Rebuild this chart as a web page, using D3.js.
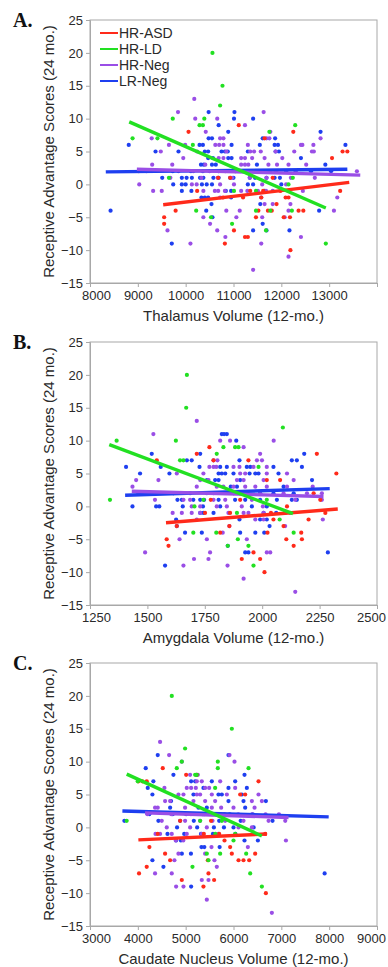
<!DOCTYPE html>
<html>
<head>
<meta charset="utf-8">
<script src="https://cdn.jsdelivr.net/npm/d3@7"></script>
<style>
  body { margin: 0; background: #fff; }
  svg { display: block; }
</style>
</head>
<body>
<script>
// ---- shared ----
const groups = ["HR-ASD", "HR-LD", "HR-Neg", "LR-Neg"];
const groupColors = ["#ff2a1a", "#22e022", "#9a4ee6", "#1e3ff0"];
const yTicks = [-15, -10, -5, 0, 5, 10, 15, 20, 25];
const yTitle = "Receptive Advantage Scores (24 mo.)";

// ---- A. thalamus ----
const thalamusTicks = [8000, 9000, 10000, 11000, 12000, 13000, 14000];
const thalamusASD = [[9550,-5],[9550,-6],[9790,-4],[10060,8],[10240,-1],[10780,-2],[10820,-9],[10930,1],[11010,-7],[11110,9],[11240,-8],[11300,-8],[11350,-1],[11470,-5],[11520,-4],[11580,-2],[11650,7],[11720,-4],[11800,-4],[11820,1],[11900,-3],[11980,-1],[12050,-5],[12090,-2],[12150,-2],[12180,-5],[12190,-10],[12250,8],[12360,-4],[12460,-4],[13060,4],[13280,5],[13380,5],[13230,-1],[11620,-1],[10680,1],[11200,-2]];
const thalamusLD = [[8890,7],[9410,7],[9650,1],[9730,10],[10220,-4],[10290,9],[10360,9],[10390,10],[10560,20],[10530,-5],[10720,12],[10770,15],[10970,-6],[11470,-4],[11470,-1],[11680,-7],[11750,8],[11770,-4],[12150,0],[12240,1],[12220,-4],[12290,9],[12930,-9],[10150,6],[11010,-1]];
const thalamusNeg = [[10180,13],[9840,11],[11630,11],[10200,10],[10660,10],[11240,9],[10420,8],[11770,8],[9290,7],[10720,7],[10790,7],[11690,7],[11750,7],[12820,7],[9650,6],[9990,6],[10620,6],[10700,6],[10790,6],[11300,6],[12410,6],[12440,6],[12670,6],[9480,5],[10240,5],[10850,5],[11350,5],[11430,5],[11570,5],[11880,5],[12270,5],[12640,5],[12680,5],[9950,4],[10690,4],[10790,4],[11160,4],[11240,4],[11390,4],[11650,4],[12020,4],[9300,3],[9720,3],[10410,3],[11160,3],[11240,3],[11310,3],[11730,3],[11910,3],[12150,3],[12520,3],[9020,2],[9180,2],[9850,2],[10160,2],[10500,2],[10830,2],[11300,2],[11890,2],[12300,2],[13580,2],[9680,1],[10330,1],[10670,1],[10970,1],[11340,1],[11690,1],[12200,1],[12700,1],[9030,0],[10130,0],[10230,0],[10720,0],[11010,0],[11600,0],[12100,0],[9320,-1],[9500,-1],[10370,-1],[10610,-1],[10680,-1],[10820,-1],[11160,-1],[11290,-1],[11510,-1],[11680,-1],[11820,-1],[12450,-1],[10720,-2],[11580,-2],[13170,-2],[11650,-3],[11820,-3],[12190,-3],[10850,-4],[11130,-4],[12150,-4],[13100,-4],[10370,-5],[11060,-5],[11600,-5],[12070,-5],[10510,-6],[9620,-7],[10660,-7],[10830,-8],[12410,-8],[10100,-9],[11580,-9],[12150,-11],[11410,-13]];
const thalamusLR = [[10480,11],[11020,11],[11010,10],[11410,10],[10690,9],[10890,8],[12820,8],[10480,7],[10550,7],[11610,7],[11870,7],[8810,6],[10290,6],[10360,6],[10960,6],[11550,6],[11860,6],[11930,6],[13340,6],[9370,5],[9850,5],[10400,5],[10470,5],[10750,5],[10820,5],[10880,5],[11300,5],[11880,5],[11950,5],[10470,4],[10570,4],[10890,4],[10960,4],[12410,4],[10320,3],[10380,3],[10550,3],[10630,3],[11490,3],[12920,3],[9730,2],[10110,2],[10360,2],[10690,2],[11040,2],[11280,2],[11520,2],[11760,2],[12100,2],[12620,2],[13040,2],[9510,1],[9920,1],[10020,1],[10130,1],[10300,1],[10370,1],[10580,1],[10690,1],[10930,1],[11000,1],[11340,1],[11450,1],[11690,1],[11860,1],[11970,1],[9740,0],[9920,0],[10000,0],[10340,0],[10440,0],[10550,0],[11300,0],[11410,0],[12000,0],[9920,-1],[10120,-1],[10840,-1],[10950,-1],[11650,-1],[10330,-2],[10400,-2],[10470,-2],[10950,-2],[11560,-3],[10540,-3],[8430,-4],[10430,-4],[12790,-4],[10560,-5],[11610,-6],[11410,-7],[12170,-7],[11690,-7],[9710,-9]];
// fit lines: [x1, y1, x2, y2] per group
const thalamusFits = [[9530,-3.1,13420,0.3],[8820,9.5,12930,-3.6],[8980,2.3,13650,1.4],[8330,1.9,13380,2.3]];

// ---- B. amygdala ----
const amygdalaTicks = [1250, 1500, 1750, 2000, 2250, 2500];
const amygdalaASD = [[1541,7],[1584,-5],[1592,-6],[1628,-3],[1715,8],[1770,9],[1751,-1],[1776,1],[1788,7],[1817,-4],[1857,-3],[1904,1],[1911,-8],[1940,7],[1962,-7],[1991,-8],[2010,-10],[2020,4],[2023,-4],[2038,-1],[2049,-2],[2078,4],[2093,-3],[2105,-5],[2108,0],[2137,-6],[2170,-4],[2173,-5],[2202,-2],[2224,2],[2238,8],[2253,1],[2275,-1],[2323,5],[1860,-1]];
const amygdalaLD = [[1337,1],[1366,10],[1624,10],[1642,7],[1657,7],[1672,20],[1669,15],[1700,-4],[1744,1],[1802,8],[1831,9],[1882,9],[1897,9],[1890,-1],[1894,-5],[1940,-6],[1962,-9],[1984,6],[2020,1],[2076,-2],[2090,12],[2137,-4],[1800,-4],[1850,-6],[1705,0]];
const amygdalaNeg = [[1715,13],[1526,11],[1817,10],[1860,10],[2050,10],[1919,9],[1991,8],[1788,7],[1805,7],[1977,7],[1999,7],[1770,6],[1788,6],[1800,6],[1875,6],[1901,6],[1962,6],[2020,6],[1628,5],[1744,5],[1904,5],[1926,5],[2020,5],[2108,5],[1451,4],[1548,4],[1730,4],[1766,4],[1890,4],[1919,4],[2006,4],[2137,4],[1435,3],[1715,3],[1802,3],[1831,3],[1875,3],[1926,3],[1970,3],[2020,3],[2108,3],[2220,3],[1461,2],[1526,2],[1613,2],[1788,2],[1875,2],[1991,2],[2093,2],[2195,2],[2260,2],[1533,1],[1657,1],[1686,1],[1788,1],[1839,1],[1955,1],[2144,1],[2260,1],[1693,0],[1730,0],[1802,0],[1846,0],[1911,0],[2003,0],[1610,-1],[1650,-1],[1693,-1],[1730,-1],[1853,-1],[1919,-1],[1940,-1],[2006,-1],[2100,-1],[2122,-1],[1715,-2],[1970,-2],[2006,-2],[2264,-2],[1857,-3],[2100,-3],[1828,-4],[1640,-5],[1759,-5],[1933,-5],[1773,-7],[1490,-7],[2020,-7],[2035,-7],[1703,-8],[1766,-8],[1657,-9],[1849,-9],[1919,-11],[2144,-13]];
const amygdalaLR = [[1824,11],[1834,11],[1846,11],[1887,10],[1519,8],[1730,8],[2183,8],[1672,7],[1693,7],[1901,7],[2129,7],[2151,7],[1407,6],[1558,6],[1727,6],[1817,6],[1846,6],[1933,6],[1948,6],[2049,6],[2173,6],[1468,5],[1596,5],[1810,5],[1824,5],[1839,5],[1875,5],[1945,5],[1970,5],[1984,5],[2071,5],[1759,4],[1795,4],[1810,4],[1904,4],[2217,4],[1863,3],[1890,3],[2093,3],[1613,2],[1686,2],[1759,2],[1875,2],[1991,2],[2049,2],[2137,2],[1631,1],[1650,1],[1700,1],[1730,1],[1747,1],[1810,1],[1882,1],[1926,1],[1991,1],[2064,1],[2129,1],[2151,1],[1435,0],[1538,0],[1552,0],[1654,0],[1742,0],[1817,0],[1955,0],[2020,0],[1730,-1],[1744,-1],[1788,-1],[2006,-1],[2061,-1],[1625,-2],[1901,-2],[1991,-2],[2020,-2],[1628,-3],[2032,-3],[1664,-4],[1737,-4],[1904,-4],[1970,-4],[2009,-4],[1926,-7],[1940,-7],[2286,-7],[1577,-9],[1850,-6]];
const amygdalaFits = [[1581,-2.5,2329,-0.4],[1334,9.4,2134,-1.1],[1432,2.3,2267,1.5],[1403,1.7,2294,2.7]];

// ---- C. caudate ----
const caudateTicks = [3000, 4000, 5000, 6000, 7000, 8000, 9000];
const caudateASD = [[4521,9],[4011,7],[4095,7],[4186,7],[4242,-3],[4186,-6],[4025,-7],[4570,-4],[4675,-5],[4919,-8],[5010,8],[5372,-9],[5463,-5],[5477,-7],[5595,-8],[5812,-2],[5930,-3],[5965,-4],[6244,5],[6209,-5],[6328,-5],[6453,-4],[6523,7],[6663,-1],[6677,-10],[6105,-5],[4884,1],[4416,-1],[5230,8],[5380,-1],[6140,5],[5700,-1],[5530,1]];
const caudateLD = [[3767,1],[3998,7],[4710,20],[4988,12],[4814,9],[4919,10],[5198,8],[5302,1],[5442,-4],[5477,-5],[5616,6],[5672,10],[5672,9],[5756,1],[5721,-4],[5142,-6],[6035,-1],[6000,-2],[6314,9],[6265,-4],[6349,-7],[6593,-9],[5965,15],[5230,8],[5620,-1]];
const caudateNeg = [[4465,13],[4654,11],[5916,11],[4919,10],[6021,10],[5093,8],[5254,8],[5233,7],[5337,7],[5721,7],[4556,6],[5023,6],[5114,6],[5212,6],[5407,6],[5491,6],[6035,6],[4849,5],[4954,5],[5233,5],[5302,5],[5547,5],[5861,5],[6523,5],[4570,4],[4675,4],[5163,4],[5407,4],[5616,4],[6384,4],[6593,4],[4360,3],[4416,3],[4988,3],[5547,3],[5742,3],[6000,3],[6440,3],[4200,2],[4700,2],[5110,2],[5390,2],[5810,2],[6100,2],[6390,2],[6670,2],[6950,2],[4500,1],[4988,1],[5302,1],[5561,1],[5826,1],[6209,1],[6733,1],[7082,1],[4605,0],[5093,0],[5442,0],[6105,0],[6384,0],[4465,-1],[4709,-1],[5023,-1],[5337,-1],[5686,-1],[6440,-1],[4793,-2],[7096,-2],[6300,-3],[5540,-3],[4849,-4],[5407,-4],[4765,-5],[5602,-5],[5651,-6],[4360,-7],[4709,-7],[5337,-8],[5477,-8],[4800,-9],[4954,-9],[5442,-11],[6802,-13],[4370,-1],[4950,-2]];
const caudateLR = [[4416,11],[5895,11],[4165,9],[4744,8],[6230,8],[4325,7],[5114,7],[5198,7],[5547,7],[6035,7],[4207,6],[5372,6],[5895,6],[6279,6],[4305,5],[5163,5],[5686,5],[5756,5],[6174,5],[4695,4],[5895,4],[6209,4],[6677,4],[4675,3],[5268,3],[5442,3],[6244,3],[4240,2],[4730,2],[5010,2],[5360,2],[5920,2],[6400,2],[3719,1],[4430,1],[4884,1],[5170,1],[5700,1],[6150,1],[6816,1],[4820,0],[5240,0],[5590,0],[5800,0],[6000,0],[6420,0],[4620,-1],[4970,-1],[5320,-1],[5570,-1],[6040,-1],[4800,-2],[4900,-2],[6230,-2],[6510,-2],[5330,-3],[5390,-3],[5710,-3],[4920,-4],[5110,-4],[4305,-5],[4535,-6],[7905,-7],[5114,-9]];
const caudateFits = [[4011,-1.9,6698,-1.0],[3767,8.1,6593,-1.3],[4150,2.2,7150,1.5],[3677,2.5,7990,1.6]];

const panels = [
    { label: "A.", top: 20, ticks: thalamusTicks, hideLast: true, title: "Thalamus Volume (12-mo.)",
      series: [thalamusASD, thalamusLD, thalamusNeg, thalamusLR], fits: thalamusFits, legend: true },
    { label: "B.", top: 342, ticks: amygdalaTicks, hideLast: false, title: "Amygdala Volume (12-mo.)",
      series: [amygdalaASD, amygdalaLD, amygdalaNeg, amygdalaLR], fits: amygdalaFits, legend: false },
    { label: "C.", top: 663, ticks: caudateTicks, hideLast: false, title: "Caudate Nucleus Volume (12-mo.)",
      series: [caudateASD, caudateLD, caudateNeg, caudateLR], fits: caudateFits, legend: false },
];

const W = 388, H = 967;
const left = 90, right = 377, plotH = 263;
const font = "'Liberation Sans', Arial, sans-serif";
const textColor = "#2a2a2a";
const axisColor = "#a8a8a8";

const svg = d3.select("body").append("svg")
    .attr("width", W).attr("height", H)
    .style("font-family", font);

// draw order: blue, purple, red, green on top
const drawOrder = [3, 2, 0, 1];

panels.forEach(p => {
    const g = svg.append("g").attr("transform", `translate(0,${p.top})`);
    const x = d3.scaleLinear().domain(d3.extent(p.ticks)).range([left, right]);
    const y = d3.scaleLinear().domain([-15, 25]).range([plotH, 0]);
    const last = p.ticks[p.ticks.length - 1];

    // frame
    g.append("rect")
        .attr("x", left).attr("y", 0)
        .attr("width", right - left).attr("height", plotH)
        .attr("fill", "none").attr("stroke", axisColor).attr("stroke-width", 1);

    const xAxis = g.append("g")
        .attr("transform", `translate(0,${plotH})`)
        .call(d3.axisBottom(x).tickValues(p.ticks).tickSize(4).tickPadding(4)
            .tickFormat(d => (p.hideLast && d === last) ? "" : String(d)));
    const yAxis = g.append("g")
        .attr("transform", `translate(${left},0)`)
        .call(d3.axisLeft(y).tickValues(yTicks).tickSize(4).tickPadding(3));

    [xAxis, yAxis].forEach(a => {
        a.select(".domain").attr("stroke", axisColor);
        a.selectAll(".tick line").attr("stroke", axisColor);
        a.selectAll(".tick text").attr("fill", textColor)
            .style("font-size", "13px").style("font-family", font);
    });
    // nudge end labels inward like the original
    xAxis.selectAll(".tick text").attr("dx", (d, i) => i === 0 ? 6 : (d === last ? -6 : 0));

    // dots
    drawOrder.forEach(gi => {
        g.append("g").selectAll("circle")
            .data(p.series[gi])
            .join("circle")
            .attr("cx", d => x(d[0]))
            .attr("cy", d => y(d[1]))
            .attr("r", 2.1)
            .attr("fill", groupColors[gi]);
    });

    // fit lines
    drawOrder.forEach(gi => {
        const f = p.fits[gi];
        g.append("line")
            .attr("x1", x(f[0])).attr("y1", y(f[1]))
            .attr("x2", x(f[2])).attr("y2", y(f[3]))
            .attr("stroke", groupColors[gi])
            .attr("stroke-width", 3.4)
            .attr("stroke-linecap", "butt");
    });

    // titles
    g.append("text")
        .attr("x", (left + right) / 2).attr("y", plotH + 38)
        .attr("text-anchor", "middle")
        .attr("fill", textColor)
        .style("font-size", "15px")
        .text(p.title);
    g.append("text")
        .attr("transform", `translate(54,${plotH / 2}) rotate(-90)`)
        .attr("text-anchor", "middle")
        .attr("fill", textColor)
        .style("font-size", "15px")
        .text(yTitle);

    // panel label
    g.append("text")
        .attr("x", 13).attr("y", 7)
        .style("font-family", "'Liberation Serif', 'Times New Roman', serif")
        .style("font-weight", "bold")
        .style("font-size", "20px")
        .attr("fill", "#111")
        .text(p.label);

    if (p.legend) {
        const lg = g.append("g");
        groups.forEach((name, i) => {
            const ly = 13 + i * 16;
            lg.append("line")
                .attr("x1", 100).attr("x2", 118)
                .attr("y1", ly).attr("y2", ly)
                .attr("stroke", groupColors[i]).attr("stroke-width", 2);
            lg.append("text")
                .attr("x", 119).attr("y", ly)
                .attr("dy", "0.35em")
                .attr("fill", textColor)
                .style("font-size", "14px")
                .text(name);
        });
    }
});
</script>
</body>
</html>
